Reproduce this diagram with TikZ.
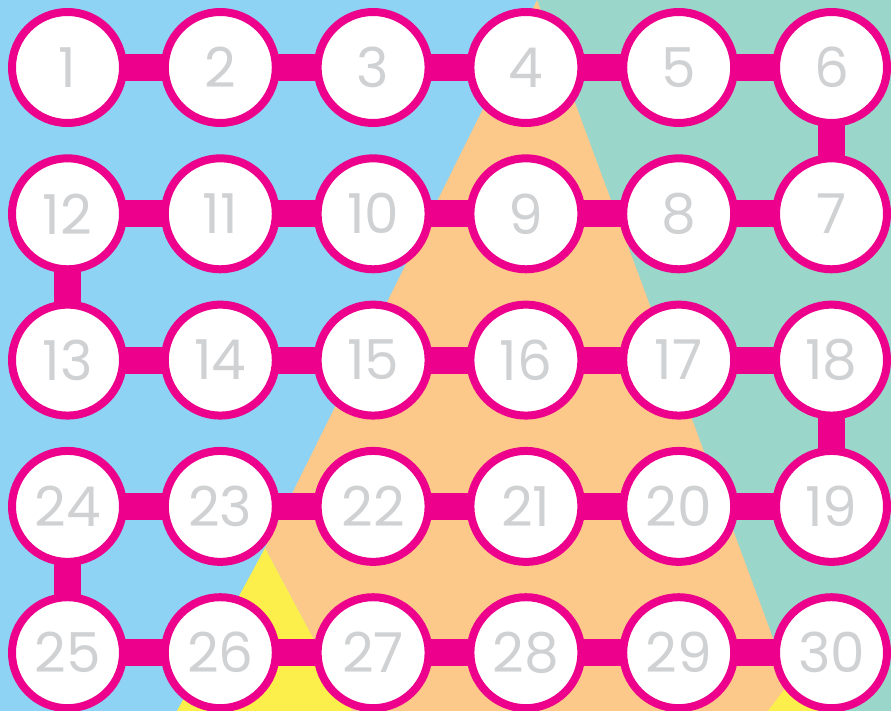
\documentclass[tikz,border=0pt]{standalone}
\usepackage{fontspec}
\setmainfont{Poppins}
\definecolor{bgblue}{HTML}{8ED3F3}
\definecolor{bgteal}{HTML}{9AD6C9}
\definecolor{bgorange}{HTML}{FCC98A}
\definecolor{bgyellow}{HTML}{FDEF4B}
\definecolor{ringpink}{HTML}{EC008C}
\definecolor{numgray}{HTML}{CFD1D3}
\pgfdeclarelayer{bglayer}
\pgfdeclarelayer{connlayer}
\pgfsetlayers{bglayer,connlayer,main}
\tikzset{
  stone/.style={circle, draw=ringpink, line width=8pt, fill=white,
    minimum size=111pt, inner sep=0pt, text=numgray,
    font=\fontsize{55}{55}\selectfont},
  link/.style={draw=ringpink, line width=27pt}
}
\begin{document}
\begin{tikzpicture}[x=1pt,y=-1pt]
\useasboundingbox (0,0) rectangle (891,711);
\begin{pgfonlayer}{bglayer}
  \fill[bgblue] (0,0) rectangle (891,711);
  \fill[bgteal] (537,0) -- (891,0) -- (891,711) -- (800,711) -- cycle;
  \fill[bgorange] (537,0) -- (800,711) -- (352,711) -- (265,548) -- cycle;
  \fill[bgyellow] (265,548) -- (352,711) -- (177,711) -- cycle;
  \fill[bgyellow] (802,666) -- (840,711) -- (768,711) -- cycle;
\end{pgfonlayer}
% row 1
\node[stone] (n1)  at (67.5,67.5)  {1};
\node[stone] (n2)  at (220.3,67.5) {2};
\node[stone] (n3)  at (373.1,67.5) {3};
\node[stone] (n4)  at (525.9,67.5) {4};
\node[stone] (n5)  at (678.7,67.5) {5};
\node[stone] (n6)  at (831.5,67.5) {6};
% row 2
\node[stone] (n12) at (67.5,213.8)  {12};
\node[stone] (n11) at (220.3,213.8) {11};
\node[stone] (n10) at (373.1,213.8) {10};
\node[stone] (n9)  at (525.9,213.8) {9};
\node[stone] (n8)  at (678.7,213.8) {8};
\node[stone] (n7)  at (831.5,213.8) {7};
% row 3
\node[stone] (n13) at (67.5,360.1)  {13};
\node[stone] (n14) at (220.3,360.1) {14};
\node[stone] (n15) at (373.1,360.1) {15};
\node[stone] (n16) at (525.9,360.1) {16};
\node[stone] (n17) at (678.7,360.1) {17};
\node[stone] (n18) at (831.5,360.1) {18};
% row 4
\node[stone] (n24) at (67.5,506.4)  {24};
\node[stone] (n23) at (220.3,506.4) {23};
\node[stone] (n22) at (373.1,506.4) {22};
\node[stone] (n21) at (525.9,506.4) {21};
\node[stone] (n20) at (678.7,506.4) {20};
\node[stone] (n19) at (831.5,506.4) {19};
% row 5
\node[stone] (n25) at (67.5,652.7)  {25};
\node[stone] (n26) at (220.3,652.7) {26};
\node[stone] (n27) at (373.1,652.7) {27};
\node[stone] (n28) at (525.9,652.7) {28};
\node[stone] (n29) at (678.7,652.7) {29};
\node[stone] (n30) at (831.5,652.7) {30};
\begin{pgfonlayer}{connlayer}
  \foreach \a/\b in {1/2,2/3,3/4,4/5,5/6,6/7,7/8,8/9,9/10,10/11,11/12,12/13,
    13/14,14/15,15/16,16/17,17/18,18/19,19/20,20/21,21/22,22/23,23/24,24/25,
    25/26,26/27,27/28,28/29,29/30}
    \draw[link] (n\a.center) -- (n\b.center);
\end{pgfonlayer}
\end{tikzpicture}
\end{document}
